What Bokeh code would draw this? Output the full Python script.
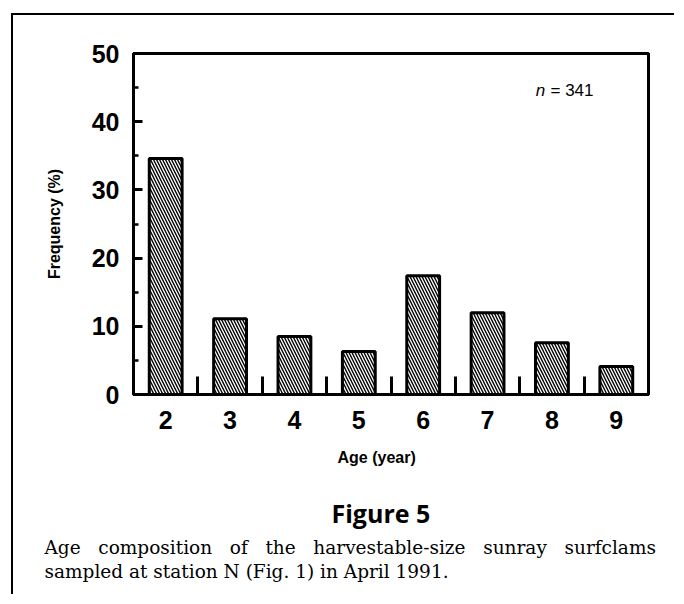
from bokeh.plotting import figure
from bokeh.models import FixedTicker, Label, Range1d, ColumnDataSource, Title
from bokeh.embed import file_html
from bokeh.resources import INLINE

# ---- data ----
ages = [2, 3, 4, 5, 6, 7, 8, 9]
frequency = [34.6, 11.1, 8.5, 6.3, 17.4, 12.0, 7.6, 4.1]
y_ticks = [0, 10, 20, 30, 40, 50]
y_minor = [5, 15, 25, 35, 45]
x_minor = [2.5, 3.5, 4.5, 5.5, 6.5, 7.5, 8.5]
n_text = "= 341"
x_label = "Age (year)"
y_label = "Frequency (%)"
fig_title = "Figure 5"
caption1_words = ["Age", "composition", "of", "the", "harvestable-size", "sunray", "surfclams"]
caption2 = "sampled at station N (Fig. 1) in April 1991."

# justified first caption line (wider word gaps, as in the printed page)
caption1 = "\u00a0\u00a0 ".join(caption1_words)
caption = caption1 + "\n" + caption2

# ---- layout (page px) ----
OX, OY = 13, 15           # canvas origin on page
W, H = 663, 581
FL, FR, FT, FB = 133, 648, 53, 394   # frame on page
X0, X1, Y0, Y1 = 1.5, 9.5, 0, 50

def dx(px):
    return X0 + (px - FL) * (X1 - X0) / (FR - FL)

def dy(py):
    return Y0 + (FB - py) * (Y1 - Y0) / (FB - FT)

p = figure(width=W, height=H, output_backend="svg", toolbar_location=None,
           x_range=Range1d(X0, X1), y_range=Range1d(Y0, Y1),
           min_border_left=FL - OX, min_border_right=OX + W - FR,
           min_border_top=FT - OY, min_border_bottom=OY + H - FB)
p.styles = {"margin-left": "11px", "margin-top": "13px",
            "border-top": "2px solid black", "border-left": "2px solid black"}
p.background_fill_color = "white"
p.border_fill_color = "white"
p.outline_line_color = "black"
p.outline_line_width = 3
p.xgrid.visible = False
p.ygrid.visible = False

src = ColumnDataSource(dict(x=ages, top=frequency))
p.vbar(x="x", top="top", width=0.51, bottom=0, source=src,
       fill_color="white", line_color="black", line_width=3,
       hatch_pattern="\\", hatch_color="black", hatch_scale=6, hatch_weight=1.4)

# axes
xa = p.xaxis[0]
xa.ticker = FixedTicker(ticks=ages, minor_ticks=x_minor)
xa.axis_line_width = 3
xa.major_tick_line_color = None
xa.minor_tick_in = 18
xa.minor_tick_out = 0
xa.minor_tick_line_width = 3
xa.major_label_text_font = "Liberation Sans"
xa.major_label_text_font_style = "bold"
xa.major_label_text_font_size = "25px"
xa.major_label_text_color = "black"
xa.major_label_standoff = 10

ya = p.yaxis[0]
ya.ticker = FixedTicker(ticks=y_ticks, minor_ticks=y_minor)
ya.axis_line_width = 3
ya.major_tick_in = 9
ya.major_tick_out = 0
ya.major_tick_line_width = 3
ya.minor_tick_in = 5
ya.minor_tick_out = 0
ya.minor_tick_line_width = 2.5
ya.major_label_text_font = "Liberation Sans"
ya.major_label_text_font_style = "bold"
ya.major_label_text_font_size = "25px"
ya.major_label_text_color = "black"
ya.major_label_standoff = 14
ya.axis_label = y_label
ya.axis_label_text_font = "Liberation Sans"
ya.axis_label_text_font_style = "bold"
ya.axis_label_text_font_size = "16px"
ya.axis_label_text_color = "black"
ya.axis_label_standoff = 26

# n = 341
p.add_layout(Label(x=dx(540), y=dy(90), text="n", text_font="Liberation Sans",
                   text_font_style="italic", text_font_size="17px", text_color="black",
                   text_align="center", text_baseline="middle"))
p.add_layout(Label(x=dx(550), y=dy(90), text=n_text, text_font="Liberation Sans",
                   text_font_size="17px", text_color="black",
                   text_align="left", text_baseline="middle"))

# x label and figure caption as titles below the plot
p.add_layout(Title(text=x_label, align="left", offset=337 - FL, standoff=30,
                   text_font="Liberation Sans", text_font_style="bold",
                   text_font_size="16px", text_color="black"), "below")
p.add_layout(Title(text=fig_title, align="left", offset=331 - FL, standoff=27,
                   text_font="Open Sans", text_font_style="bold",
                   text_font_size="25px", text_color="black"), "below")
p.add_layout(Title(text=caption, align="left", offset=44 - FL, standoff=-16,
                   text_font="DejaVu Serif", text_font_style="normal",
                   text_font_size="18.5px", text_line_height=1.15,
                   text_color="black"), "below")

open("out.html", "w").write(file_html(p, INLINE))
